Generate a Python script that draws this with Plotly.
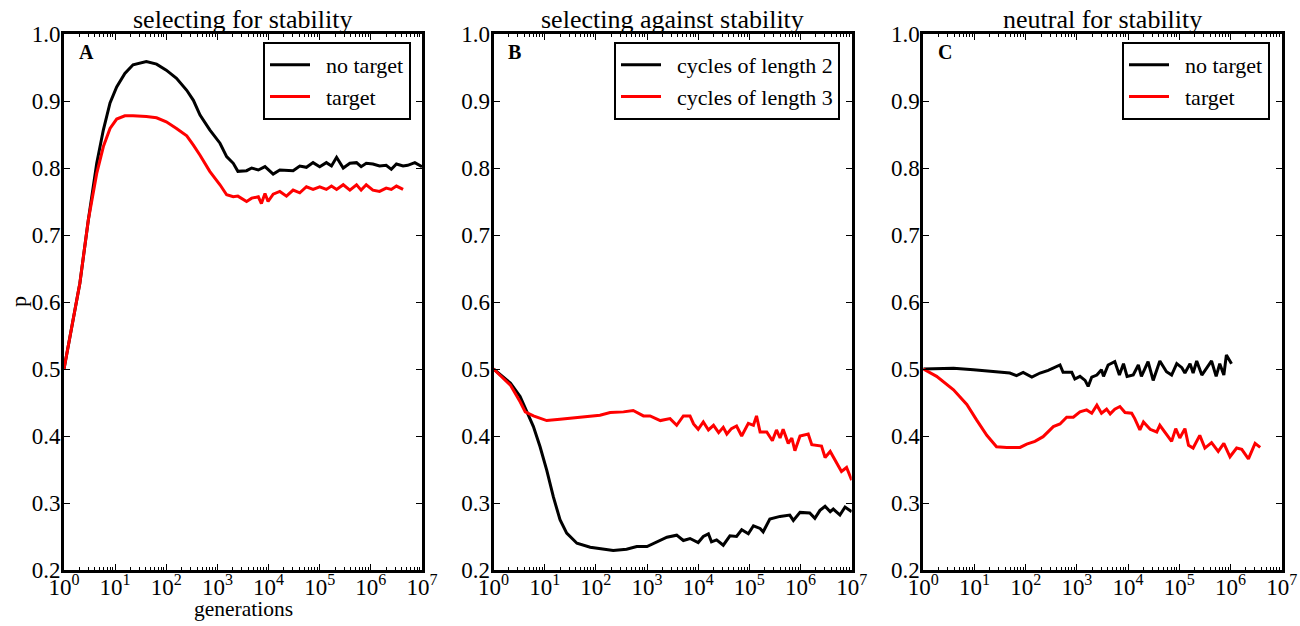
import plotly.graph_objects as go

# ---------------- data (log10 generations, p) ----------------
a_black_logx = [0, 0.15, 0.31, 0.475, 0.57, 0.64, 0.77, 0.9, 1.03, 1.19, 1.35, 1.61, 1.81, 2.0, 2.2,
                2.4, 2.53, 2.66, 2.85, 3.05, 3.18, 3.31, 3.4, 3.57, 3.67, 3.8, 3.93, 4.09, 4.22, 4.35,
                4.48, 4.61, 4.74, 4.87, 5.0, 5.13, 5.23, 5.33, 5.46, 5.59, 5.72, 5.81, 5.91, 6.04, 6.17,
                6.3, 6.4, 6.5, 6.63, 6.72, 6.86, 7.0]
a_black_p = [0.50, 0.56, 0.628, 0.722, 0.772, 0.807, 0.857, 0.897, 0.921, 0.941, 0.954, 0.959, 0.955,
             0.946, 0.934, 0.916, 0.901, 0.879, 0.857, 0.837, 0.817, 0.807, 0.795, 0.796, 0.800, 0.797,
             0.802, 0.791, 0.797, 0.796, 0.796, 0.803, 0.801, 0.808, 0.802, 0.808, 0.803, 0.816, 0.800,
             0.807, 0.808, 0.802, 0.807, 0.806, 0.803, 0.804, 0.798, 0.806, 0.803, 0.804, 0.808, 0.802]

a_red_logx = [0, 0.15, 0.31, 0.475, 0.57, 0.64, 0.77, 0.9, 1.03, 1.19, 1.35, 1.61, 1.81, 2.0, 2.2,
              2.4, 2.53, 2.66, 2.85, 3.05, 3.18, 3.31, 3.4, 3.57, 3.67, 3.8, 3.86, 3.93, 3.99, 4.09,
              4.22, 4.35, 4.48, 4.61, 4.74, 4.87, 5.0, 5.13, 5.23, 5.33, 5.46, 5.59, 5.72, 5.81, 5.91,
              6.04, 6.17, 6.3, 6.4, 6.5, 6.63]
a_red_p = [0.50, 0.56, 0.628, 0.722, 0.765, 0.792, 0.832, 0.859, 0.873, 0.878, 0.878, 0.877, 0.875,
           0.869, 0.859, 0.848, 0.834, 0.819, 0.795, 0.775, 0.760, 0.757, 0.758, 0.750, 0.755, 0.757,
           0.747, 0.762, 0.750, 0.761, 0.765, 0.758, 0.767, 0.763, 0.772, 0.768, 0.772, 0.768, 0.773,
           0.768, 0.775, 0.767, 0.775, 0.767, 0.775, 0.767, 0.765, 0.770, 0.768, 0.773, 0.768]

b_black_logx = [0, 0.33, 0.52, 0.65, 0.78, 0.91, 1.04, 1.17, 1.30, 1.43, 1.63, 1.89, 2.15, 2.34, 2.6,
                2.8, 3.0, 3.19, 3.39, 3.58, 3.71, 3.84, 4.0, 4.1, 4.2, 4.26, 4.36, 4.49, 4.62, 4.75,
                4.85, 4.98, 5.08, 5.21, 5.27, 5.4, 5.6, 5.79, 5.86, 5.99, 6.18, 6.28, 6.38, 6.48, 6.58,
                6.64, 6.77, 6.87, 7.0]
b_black_p = [0.5, 0.479, 0.459, 0.436, 0.414, 0.384, 0.349, 0.309, 0.275, 0.255, 0.240, 0.234, 0.231,
             0.229, 0.231, 0.235, 0.235, 0.242, 0.249, 0.252, 0.244, 0.247, 0.241, 0.250, 0.254, 0.242,
             0.245, 0.237, 0.251, 0.250, 0.260, 0.254, 0.266, 0.262, 0.257, 0.276, 0.280, 0.282, 0.274,
             0.286, 0.285, 0.277, 0.289, 0.295, 0.287, 0.291, 0.282, 0.294, 0.287]

b_red_logx = [0, 0.33, 0.52, 0.62, 0.78, 1.04, 1.30, 1.63, 1.89, 2.08, 2.28, 2.54, 2.73, 2.93, 3.06,
              3.26, 3.45, 3.58, 3.71, 3.84, 3.91, 4.0, 4.1, 4.2, 4.3, 4.4, 4.49, 4.56, 4.65, 4.75,
              4.85, 4.98, 5.08, 5.14, 5.21, 5.34, 5.45, 5.53, 5.6, 5.66, 5.76, 5.83, 5.89, 5.99, 6.15,
              6.22, 6.41, 6.48, 6.58, 6.71, 6.8, 6.9, 7.0]
b_red_p = [0.5, 0.476, 0.451, 0.436, 0.430, 0.423, 0.425, 0.428, 0.430, 0.431, 0.435, 0.436, 0.438,
           0.430, 0.430, 0.423, 0.426, 0.416, 0.430, 0.430, 0.418, 0.410, 0.421, 0.409, 0.416, 0.405,
           0.413, 0.403, 0.411, 0.415, 0.400, 0.419, 0.416, 0.430, 0.406, 0.406, 0.393, 0.409, 0.397,
           0.410, 0.389, 0.397, 0.378, 0.400, 0.403, 0.387, 0.385, 0.368, 0.377, 0.359, 0.347, 0.353,
           0.334]

c_black_logx = [0, 0.59, 0.98, 1.37, 1.69, 1.82, 1.95, 2.12, 2.28, 2.44, 2.57, 2.67, 2.73, 2.9, 2.96,
                3.06, 3.16, 3.22, 3.29, 3.39, 3.48, 3.52, 3.61, 3.74, 3.83, 3.91, 3.98, 4.1, 4.2, 4.26,
                4.39, 4.49, 4.62, 4.75, 4.85, 4.95, 5.05, 5.11, 5.21, 5.27, 5.34, 5.44, 5.53, 5.63, 5.72,
                5.79, 5.87, 5.92, 6.02]
c_black_p = [0.5, 0.501, 0.499, 0.496, 0.494, 0.490, 0.495, 0.488, 0.494, 0.498, 0.502, 0.506, 0.495,
             0.495, 0.485, 0.489, 0.483, 0.474, 0.488, 0.491, 0.499, 0.489, 0.506, 0.511, 0.491, 0.508,
             0.489, 0.491, 0.506, 0.489, 0.511, 0.483, 0.512, 0.496, 0.491, 0.508, 0.502, 0.494, 0.508,
             0.494, 0.512, 0.491, 0.501, 0.512, 0.489, 0.508, 0.491, 0.521, 0.508]

c_red_logx = [0, 0.26, 0.59, 0.85, 1.04, 1.24, 1.43, 1.63, 1.89, 2.02, 2.18, 2.34, 2.54, 2.67, 2.8,
              2.93, 3.06, 3.19, 3.29, 3.39, 3.48, 3.58, 3.65, 3.74, 3.84, 3.94, 4.07, 4.13, 4.23, 4.3,
              4.43, 4.56, 4.62, 4.75, 4.85, 4.93, 5.01, 5.11, 5.18, 5.27, 5.4, 5.5, 5.63, 5.76, 5.87,
              5.99, 6.12, 6.22, 6.35, 6.48, 6.58]
c_red_p = [0.5, 0.489, 0.469, 0.447, 0.424, 0.401, 0.384, 0.383, 0.383, 0.388, 0.392, 0.399, 0.414,
           0.418, 0.428, 0.428, 0.436, 0.439, 0.434, 0.446, 0.434, 0.440, 0.433, 0.440, 0.444, 0.435,
           0.434, 0.426, 0.409, 0.421, 0.410, 0.406, 0.416, 0.402, 0.392, 0.411, 0.397, 0.411, 0.386,
           0.382, 0.401, 0.382, 0.390, 0.377, 0.389, 0.369, 0.382, 0.380, 0.366, 0.389, 0.383]

titles = ["selecting for stability", "selecting against stability", "neutral for stability"]
panel_letters = ["A", "B", "C"]
legend_names = [["no target", "target"], ["cycles of length 2", "cycles of length 3"], ["no target", "target"]]
x_tick_exponents = [0, 1, 2, 3, 4, 5, 6, 7]
y_ticks = [0.2, 0.3, 0.4, 0.5, 0.6, 0.7, 0.8, 0.9, 1.0]

series = [
    [(a_black_logx, a_black_p), (a_red_logx, a_red_p)],
    [(b_black_logx, b_black_p), (b_red_logx, b_red_p)],
    [(c_black_logx, c_black_p), (c_red_logx, c_red_p)],
]
colors = ["#000000", "#ff0000"]

FONT = "Liberation Serif, Times New Roman, serif"
W, H = 1300, 626
x_domains = [(64 / W, 422 / W), (493.5 / W, 851.7 / W), (923.3 / W, 1281.7 / W)]
y_domain = ((626 - 570) / H, (626 - 34) / H)
legend_right = [411 / W, 840 / W, 1270 / W]
NB = "\u00a0\u00a0"

fig = go.Figure()
for i in range(3):
    sfx = "" if i == 0 else str(i + 1)
    for j, (lx, p) in enumerate(series[i]):
        fig.add_trace(go.Scatter(
            x=[10 ** v for v in lx], y=p, mode="lines",
            line=dict(color=colors[j], width=3),
            name=NB + legend_names[i][j],
            xaxis="x" + sfx, yaxis="y" + sfx,
            legend="legend" + sfx,
        ))

layout = dict(
    width=W, height=H,
    margin=dict(l=0, r=0, t=0, b=0, pad=0, autoexpand=False),
    paper_bgcolor="white", plot_bgcolor="white",
    font=dict(family=FONT, color="black", size=22),
    annotations=[],
)

for i in range(3):
    sfx = "" if i == 0 else str(i + 1)
    layout["xaxis" + sfx] = dict(
        type="log", range=[0, 7], domain=list(x_domains[i]), anchor="y" + sfx,
        tickvals=[10 ** e for e in x_tick_exponents],
        ticktext=["10<sup>%d</sup>" % e for e in x_tick_exponents],
        ticks="inside", ticklen=6, tickwidth=1.2, tickcolor="black",
        minor=dict(ticks="inside", ticklen=3, tickwidth=1, tickcolor="black", dtick="D1", showgrid=False),
        showline=True, linecolor="black", linewidth=3, mirror="allticks",
        showgrid=False, zeroline=False, automargin=False, ticklabelstandoff=-6,
        tickfont=dict(family=FONT, size=23, color="black"),
    )
    layout["yaxis" + sfx] = dict(
        range=[0.2, 1.0], domain=list(y_domain), anchor="x" + sfx,
        tickvals=y_ticks, ticktext=["%.1f" % v for v in y_ticks],
        ticks="inside", ticklen=6, tickwidth=1.2, tickcolor="black",
        showline=True, linecolor="black", linewidth=3, mirror="allticks",
        showgrid=False, zeroline=False, automargin=False, ticklabelstandoff=-4,
        tickfont=dict(family=FONT, size=23, color="black"),
    )
    layout["legend" + sfx] = dict(
        x=legend_right[i], xanchor="right", y=(626 - 42) / H, yanchor="top",
        bordercolor="black", borderwidth=2, bgcolor="white",
        font=dict(family=FONT, size=22, color="black"),
        itemwidth=40, tracegroupgap=0,
    )
    layout["annotations"].append(dict(
        text=titles[i], xref="x%s domain" % sfx, yref="paper", x=0.5, y=y_domain[1],
        xanchor="center", yanchor="bottom", showarrow=False, yshift=-2,
        font=dict(family=FONT, size=26, color="black"),
    ))
    layout["annotations"].append(dict(
        text="<b>%s</b>" % panel_letters[i], xref="x%s domain" % sfx, yref="y%s domain" % sfx,
        x=0.035, y=0.99, xanchor="left", yanchor="top", showarrow=False,
        font=dict(family=FONT, size=20, color="black"),
    ))

layout["annotations"].append(dict(
    text="p", xref="paper", yref="paper", x=18 / W, y=(626 - 302) / H, textangle=-90,
    xanchor="center", yanchor="middle", showarrow=False,
    font=dict(family=FONT, size=22, color="black"),
))
layout["annotations"].append(dict(
    text="generations", xref="x domain", yref="paper", x=0.5, y=(626 - 609) / H,
    xanchor="center", yanchor="middle", showarrow=False,
    font=dict(family=FONT, size=21.5, color="black"),
))

fig.update_layout(**layout)
fig.write_html(
    "out.html",
    config={"displayModeBar": False},
    post_script="document.body.style.margin='0';document.body.style.overflow='hidden';",
)
